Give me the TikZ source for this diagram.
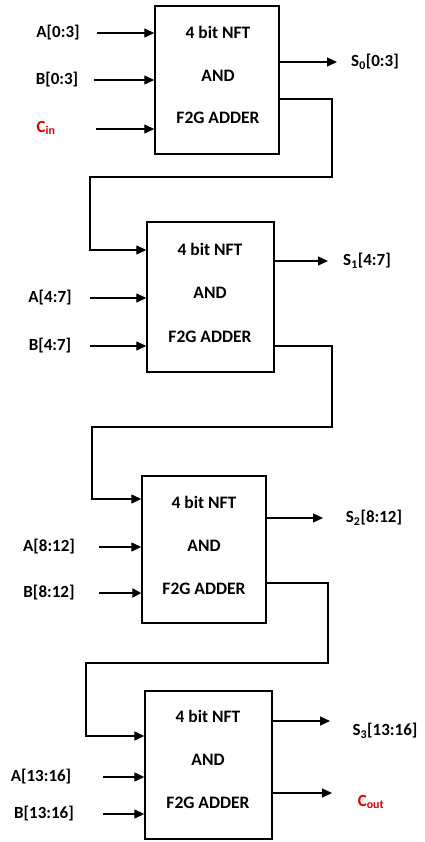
\documentclass[tikz,border=0pt]{standalone}
\usepackage{fontspec}
\setmainfont{Carlito}
\usetikzlibrary{arrows.meta}
\begin{document}
\begin{tikzpicture}[x=1pt,y=-1pt,
  blk/.style={draw,line width=1.4pt,minimum width=#1,inner sep=0pt},
  txt/.style={font=\fontsize{17.5}{20}\selectfont\bfseries,inner sep=0pt},
  lbl/.style={font=\fontsize{17}{20}\selectfont\bfseries,inner sep=0pt},
  redlbl/.style={font=\fontsize{17}{20}\selectfont\bfseries,text=red!85!black,inner sep=0pt},
  arr/.style={line width=1.3pt,-{Triangle[length=10pt,width=9pt]}},
  thickarr/.style={line width=2.4pt,-{Triangle[length=9pt,width=9pt]}}]
\useasboundingbox (0,0) rectangle (424,842);
% blocks
\node[blk=124pt,minimum height=148pt] (b1) at (217,80) {};
\node[blk=127pt,minimum height=150pt] (b2) at (210.5,297) {};
\node[blk=124pt,minimum height=147pt] (b3) at (204,549.5) {};
\node[blk=127pt,minimum height=148pt] (b4) at (208.5,765) {};
% block texts
\node[txt] (t1a) at (218,32) {4 bit NFT};
\node[txt] (t1b) at (218,76) {AND};
\node[txt] (t1c) at (218,118) {F2G ADDER};
\node[txt] (t2a) at (210,249) {4 bit NFT};
\node[txt] (t2b) at (210,293) {AND};
\node[txt] (t2c) at (210,337) {F2G ADDER};
\node[txt] (t3a) at (204,502) {4 bit NFT};
\node[txt] (t3b) at (204,546) {AND};
\node[txt] (t3c) at (204,589) {F2G ADDER};
\node[txt] (t4a) at (208,716) {4 bit NFT};
\node[txt] (t4b) at (208,760) {AND};
\node[txt] (t4c) at (208,803) {F2G ADDER};
% labels
\node[lbl] (a1) at (58,33) {A[0:3]};
\node[lbl] (bb1) at (57,80) {B[0:3]};
\node[redlbl] (cin) at (46,128) {C\textsubscript{in}};
\node[lbl] (s0) at (375,62) {S\textsubscript{0}[0:3]};
\node[lbl] (a2) at (50,298) {A[4:7]};
\node[lbl] (bb2) at (50,346) {B[4:7]};
\node[lbl] (s1) at (367,261) {S\textsubscript{1}[4:7]};
\node[lbl] (a3) at (49,547) {A[8:12]};
\node[lbl] (bb3) at (49,593) {B[8:12]};
\node[lbl] (s2) at (374,518) {S\textsubscript{2}[8:12]};
\node[lbl] (a4) at (41,777) {A[13:16]};
\node[lbl] (bb4) at (44,814) {B[13:16]};
\node[lbl] (s3) at (385,731) {S\textsubscript{3}[13:16]};
\node[redlbl] (cout) at (371,802) {C\textsubscript{out}};
% input starts
\coordinate (ia1) at (97,33);
\coordinate (ib1) at (94,80);
\coordinate (ic1) at (96,129);
\coordinate (ia2) at (90,298);
\coordinate (ib2) at (90,346);
\coordinate (ia3) at (99,547);
\coordinate (ib3) at (99,593);
\coordinate (ia4) at (103,777);
\coordinate (ib4) at (103,814);
\draw[arr] (ia1) -- (ia1 -| b1.west);
\draw[arr] (ib1) -- (ib1 -| b1.west);
\draw[arr] (ic1) -- (ic1 -| b1.west);
\draw[arr] (ia2) -- (ia2 -| b2.west);
\draw[arr] (ib2) -- (ib2 -| b2.west);
\draw[arr] (ia3) -- (ia3 -| b3.west);
\draw[thickarr] (ib3) -- (ib3 -| b3.west);
\draw[arr] (ia4) -- (ia4 -| b4.west);
\draw[arr] (ib4) -- (ib4 -| b4.west);
% outputs
\coordinate (o1) at (337,62);
\coordinate (o2) at (328,261);
\coordinate (o3) at (323,518);
\coordinate (o4) at (330,721);
\coordinate (o5) at (332,793);
\draw[arr] (o1 -| b1.east) -- (o1);
\draw[arr] (o2 -| b2.east) -- (o2);
\draw[arr] (o3 -| b3.east) -- (o3);
\draw[arr] (o4 -| b4.east) -- (o4);
\draw[arr] (o5 -| b4.east) -- (o5);
% carries
\coordinate (c1a) at (332,99);
\coordinate (c1b) at (90,250);
\draw[arr] (c1a -| b1.east) -- (c1a) |- (90,177) -- (c1b) -- (c1b -| b2.west);
\coordinate (c2a) at (332,346);
\coordinate (c2b) at (92,499);
\draw[arr] (c2a -| b2.east) -- (c2a) |- (92,427) -- (c2b) -- (c2b -| b3.west);
\coordinate (c3a) at (328,583);
\coordinate (c3b) at (86,736);
\draw[line width=2.6pt] (c3a -| b3.east) -- ([xshift=0.6pt]c3a);
\draw[arr] (c3a) |- (86,663) -- (c3b) -- (c3b -| b4.west);
\end{tikzpicture}
\end{document}
